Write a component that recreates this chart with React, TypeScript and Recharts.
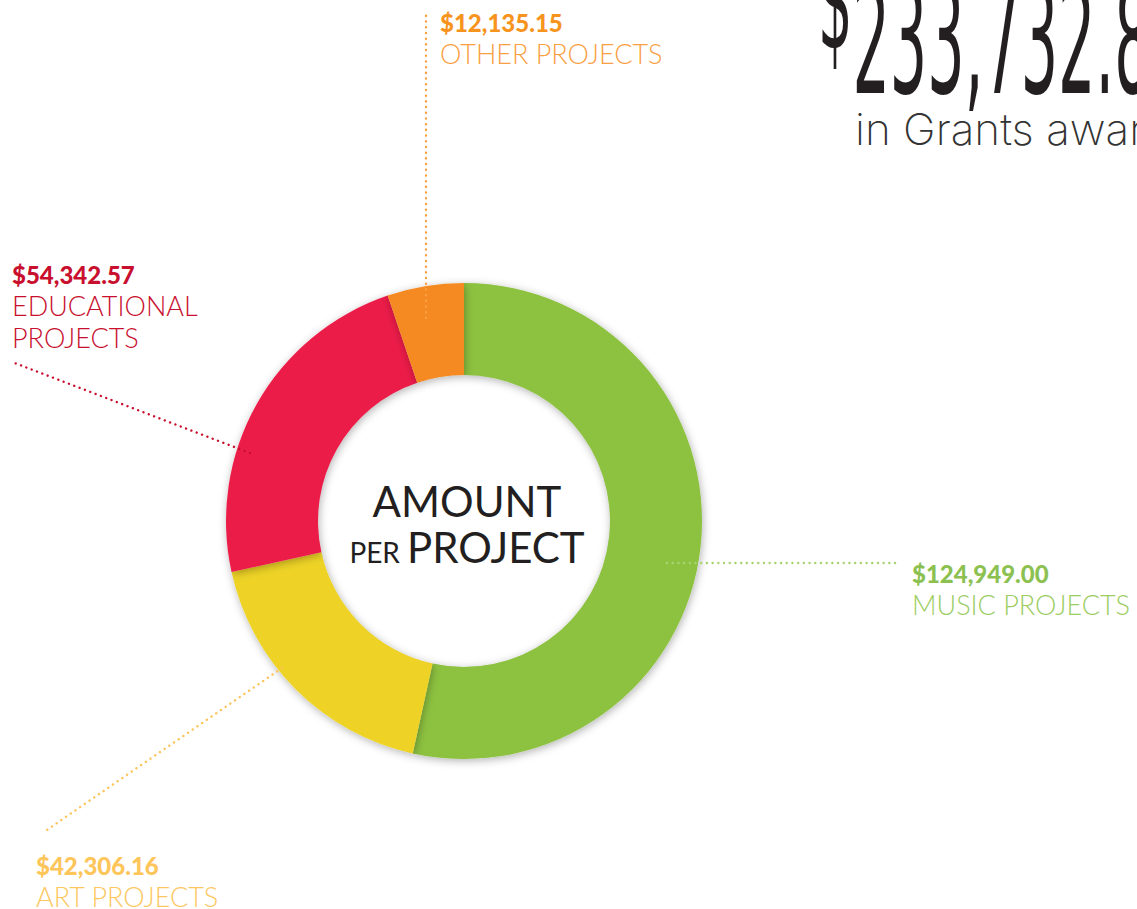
import React from "react";
import { PieChart, Pie, Cell } from "recharts";

// grant amounts per project type, clockwise from 12 o'clock
const CATEGORIES = ["MUSIC PROJECTS", "ART PROJECTS", "EDUCATIONAL PROJECTS", "OTHER PROJECTS"];
const CATEGORY_LINES = [["MUSIC PROJECTS"], ["ART PROJECTS"], ["EDUCATIONAL", "PROJECTS"], ["OTHER PROJECTS"]];
const AMOUNTS = [124949.0, 42306.16, 54342.57, 12135.15];

const SLICE_COLORS = ["#8dc23f", "#eed325", "#ec1d48", "#f58a20"];
const VALUE_COLORS = ["#8cc152", "#fdc55a", "#c8102e", "#f7941d"];
const NAME_COLORS = ["#9bcd63", "#fcc75f", "#c8102e", "#f9a043"];
const LEADER_COLORS = ["#a9d373", "#fcc45a", "#c8102e", "#f9a043"];

const data = CATEGORIES.map((name, i) => ({ name, amount: AMOUNTS[i] }));
const total = AMOUNTS.reduce((a, b) => a + b, 0);

const W = 1137;
const H = 909;
const CX = 464;
const CY = 521;
const R_OUT = 238;
const R_IN = 146;

const money = (v: number) =>
  "$" + v.toLocaleString("en-US", { minimumFractionDigits: 2, maximumFractionDigits: 2 });

// callout geometry (leader line + text anchor), same order as data
const CALLOUTS = [
  { x1: 667, y1: 563, x2: 896, y2: 563, tx: 912, ty: 583 },
  { x1: 282, y1: 668, x2: 44, y2: 832, tx: 36, ty: 875 },
  { x1: 250, y1: 453, x2: 12, y2: 362, tx: 12, ty: 284 },
  { x1: 426, y1: 318, x2: 426, y2: 14, tx: 440, ty: 32 },
];

const FONT = "Lato, 'Noto Sans', sans-serif";

function renderCallout(props: any) {
  const i = props.index;
  const c = CALLOUTS[i];
  return (
    <g key={"callout-" + i}>
      <line
        x1={c.x1}
        y1={c.y1}
        x2={c.x2}
        y2={c.y2}
        stroke={LEADER_COLORS[i]}
        strokeWidth={2.4}
        strokeLinecap="round"
        strokeDasharray="0.1 5.6"
      />
      <text x={c.tx} y={c.ty} fill={VALUE_COLORS[i]} fontFamily={FONT} fontWeight={900} fontSize={24}>
        {money(AMOUNTS[i])}
      </text>
      {CATEGORY_LINES[i].map((ln, j) => (
        <text
          key={j}
          x={c.tx}
          y={c.ty + 32 + j * 32}
          fill={NAME_COLORS[i]}
          fontFamily={FONT}
          fontWeight={300}
          fontSize={27}
        >
          {ln}
        </text>
      ))}
    </g>
  );
}

export default function App() {
  return (
    <div
      style={{
        position: "absolute",
        left: 0,
        top: 0,
        width: W,
        height: H,
        overflow: "hidden",
        background: "#fff",
      }}
    >
      <PieChart width={W} height={H} margin={{ top: 0, right: 0, bottom: 0, left: 0 }}>
        <defs>
          <filter id="sliceShadow" x="-20%" y="-20%" width="140%" height="140%">
            <feDropShadow dx="1" dy="2" stdDeviation="4" floodColor="#000" floodOpacity="0.3" />
          </filter>
          <filter id="discShadow" x="-20%" y="-20%" width="140%" height="140%">
            <feDropShadow dx="2" dy="2" stdDeviation="4" floodColor="#000" floodOpacity="0.35" />
          </filter>
        </defs>

        <text transform="translate(818,93) scale(0.43,1)" fill="#231f20" fontFamily="'Liberation Sans Narrow', 'DejaVu Sans Condensed', sans-serif">
          <tspan fontSize={140} dy={-45}>$</tspan>
          <tspan fontSize={152} dy={45}>{money(total).slice(1)}</tspan>
        </text>
        <text x={855} y={145} fill="#333" fontFamily="Inter, Lato, sans-serif" fontWeight={200} fontSize={44}>
          in Grants awarded
        </text>

        <Pie
          data={data}
          dataKey="amount"
          nameKey="name"
          cx={CX}
          cy={CY}
          innerRadius={R_IN}
          outerRadius={R_OUT}
          startAngle={90}
          endAngle={-270}
          stroke="none"
          label={renderCallout}
          labelLine={false}
          isAnimationActive={false}
        >
          {data.map((d, i) => (
            <Cell key={d.name} fill={SLICE_COLORS[i]} filter="url(#sliceShadow)" />
          ))}
        </Pie>

        <circle cx={CX} cy={CY} r={R_IN} fill="#fff" filter="url(#discShadow)" />
        <text x={CX + 3} y={517} textAnchor="middle" fill="#231f20" fontFamily={FONT} fontSize={42}>
          AMOUNT
        </text>
        <text x={CX + 3} y={563} textAnchor="middle" fill="#231f20" fontFamily={FONT} fontSize={42}>
          <tspan fontSize={28}>PER </tspan>
          <tspan>PROJECT</tspan>
        </text>
      </PieChart>
    </div>
  );
}
